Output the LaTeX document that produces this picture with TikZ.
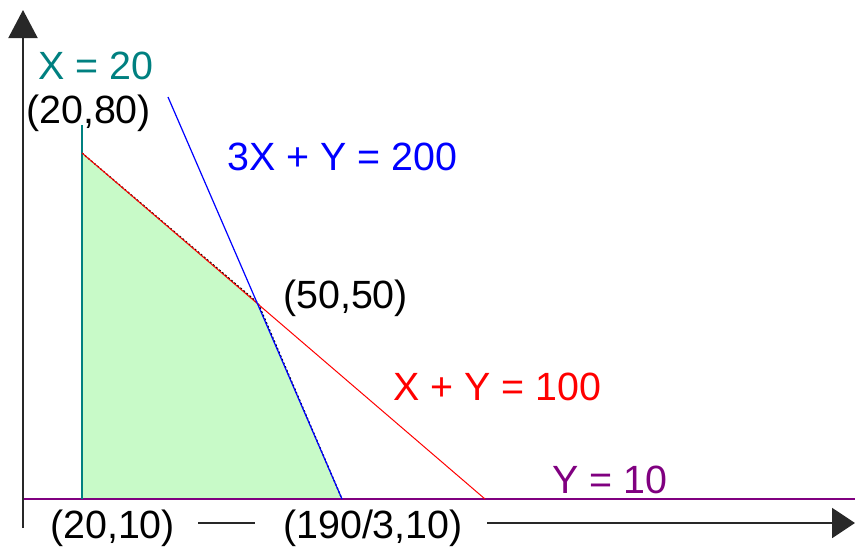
\documentclass[tikz,border=0pt]{standalone}
\usepackage{fontspec}
\setmainfont{Liberation Sans}
\usetikzlibrary{arrows.meta}
\definecolor{tealc}{RGB}{0,128,128}
\definecolor{purplec}{RGB}{128,0,128}
\definecolor{greenfill}{RGB}{200,250,200}
\definecolor{axisc}{RGB}{40,40,40}
\begin{document}
\begin{tikzpicture}[x=1pt,y=-1pt,
  lbl/.style={inner sep=0pt, anchor=base west, font=\fontsize{39.4}{44}\selectfont},
  axis/.style={draw=axisc, line width=2pt},
  outline/.style={draw=black, line width=1.3pt, dash pattern=on 2pt off 2pt}]
\useasboundingbox (0,0) rectangle (855,552);
% vertices
\coordinate (A) at (82,153);
\coordinate (B) at (258,303);
\coordinate (C) at (342,499);
\coordinate (D) at (82,499);
\coordinate (tealTop) at (82,125);
\coordinate (blueTop) at (168,97);
\coordinate (redEnd) at (485,499);
\coordinate (purL) at (23,499);
\coordinate (purR) at (855,499);
\coordinate (yS) at (23,528);
\coordinate (yE) at (23,10);
\coordinate (dashL) at (198,523);
\coordinate (dashR) at (255,523);
\coordinate (xS) at (487,523);
\coordinate (xE) at (855,523);
% feasible region
\fill[greenfill] (A) -- (B) -- (C) -- (D) -- cycle;
\draw[outline, xshift=1pt, yshift=1pt] (A) -- (B) -- (C);
\draw[outline] (D) -- (C);
% constraint lines
\draw[purplec, line width=1.8pt] (purL) -- (purR);
\draw[tealc, line width=1.6pt] (tealTop) -- (D);
\draw[red, line width=1pt] (A) -- (redEnd);
\draw[blue, line width=1.2pt] (blueTop) -- (C);
% axes
\draw[axis, -{Triangle[length=28pt,width=29pt]}] (yS) -- (yE);
\draw[axis] (dashL) -- (dashR);
\draw[axis, -{Triangle[length=23pt,width=30pt]}] (xS) -- (xE);
% labels
\node[lbl, text=tealc] (lx20) at (38,79) {X = 20};
\node[lbl] (l2080) at (26,123) {(20,80)};
\node[lbl, text=blue] (lblue) at (227,170) {3X + Y = 200};
\node[lbl] (l5050) at (283,308) {(50,50)};
\node[lbl, text=red] (lred) at (393,400) {X + Y = 100};
\node[lbl, text=purplec] (ly10) at (552,493) {Y = 10};
\node[lbl] (l2010) at (50,538) {(20,10)};
\node[lbl] (l190) at (283,538) {(190/3,10)};
\end{tikzpicture}
\end{document}
